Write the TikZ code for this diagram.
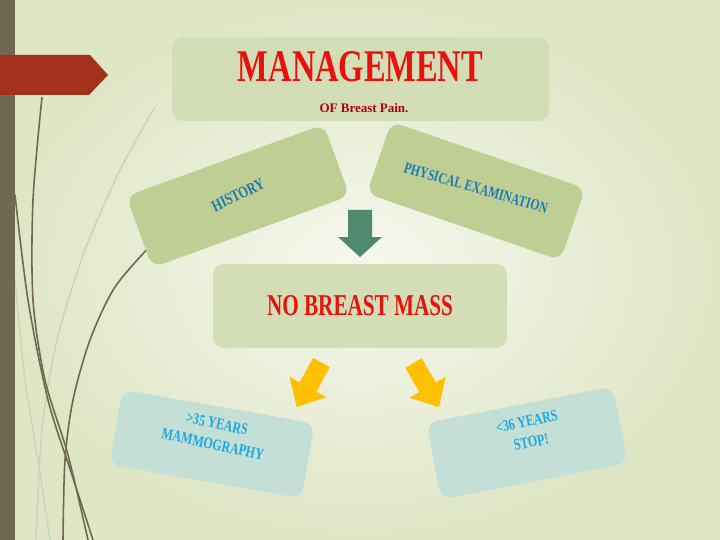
\documentclass[tikz,border=0pt]{standalone}
\usepackage{fontspec}
\setmainfont{Liberation Serif}
\newfontfamily\condfont{Liberation Serif}[FakeStretch=0.75]
\usepackage{graphicx}
\definecolor{bgin}{HTML}{F6F8EE}
\definecolor{bgout}{HTML}{DEE6C5}
\definecolor{barcol}{HTML}{6F6951}
\definecolor{bannercol}{HTML}{A3301A}
\definecolor{faintcol}{HTML}{CDD3BC}
\definecolor{lightbox}{HTML}{D4DEB6}
\definecolor{greenbox}{HTML}{BFCF94}
\definecolor{tealbox}{HTML}{C3DFD6}
\definecolor{mgred}{HTML}{E8110C}
\definecolor{darkred}{HTML}{B0000A}
\definecolor{bluetext}{HTML}{1C78B4}
\definecolor{cyantext}{HTML}{1BA8E0}
\definecolor{greenarrow}{HTML}{4F8A70}
\definecolor{amber}{HTML}{FFC000}
\begin{document}
\begin{tikzpicture}[x=1pt,y=-1pt,
  boxbase/.style={rounded corners=11pt, inner sep=0pt, draw=none},
  palebox/.style={boxbase, fill=lightbox},
  leafbox/.style={boxbase, fill=greenbox, minimum width=210pt, minimum height=76pt},
  agebox/.style={boxbase, fill=tealbox},
  bluelabel/.style={text=bluetext, inner sep=0pt},
  cyanlabel/.style={text=cyantext, inner sep=0pt, align=center, font=\condfont\bfseries\fontsize{16}{21}\selectfont},
  curve/.style={draw=barcol, line width=1.6pt},
  faintcurve/.style={draw=faintcol, line width=1.4pt},
  yellowarrow/.style={fill=amber},
  downarrow/.style={fill=greenarrow}]
\useasboundingbox (0,0) rectangle (720,540);
\shade[inner color=bgin, outer color=bgout] (0,0) rectangle (720,540);

% decorative curves
\draw[faintcurve] plot[smooth] coordinates {(155,107) (120,170) (85,250) (57,340) (42,430) (36,540)};
\draw[faintcurve] plot[smooth] coordinates {(15,280) (25,380) (38,460) (50,540)};
\draw[curve] plot[smooth] coordinates {(42,97) (33,200) (33,300) (45,380) (68,455) (88,540)};
\draw[curve] plot[smooth] coordinates {(15,195) (28,300) (48,400) (72,475) (93,540)};
\draw[curve] plot[smooth] coordinates {(153,243) (115,287) (90,340) (73,400) (65,460) (63,540)};

% left bar and banner
\fill[barcol] (0,0) rectangle (15,540);
\fill[bannercol] (0,55) -- (90,55) -- (108,75) -- (89,95) -- (0,95) -- cycle;

% title box
\node[palebox, minimum width=377pt, minimum height=84pt] (mgmt) at (360.5,79) {};
\node[anchor=base, inner sep=0pt, text=mgred] (mgmttitle) at (360.5,82)
  {\resizebox{245pt}{30pt}{\bfseries MANAGEMENT}};
\node[anchor=base, inner sep=0pt, text=darkred, font=\bfseries\fontsize{13}{15}\selectfont] (mgmtsub) at (364,113)
  {OF Breast Pain.};

% history / physical examination
\node[leafbox, rotate=20] (hist) at (238,196) {};
\node[bluelabel, rotate=26, font=\condfont\bfseries\fontsize{16.5}{18}\selectfont] (histtext) at (238,195) {HISTORY};
\node[leafbox, rotate=-19, minimum width=205pt] (phys) at (476,191) {};
\node[bluelabel, rotate=-16, font=\condfont\bfseries\fontsize{15.5}{17}\selectfont] (phystext) at (476,188) {PHYSICAL EXAMINATION};

% green arrow
\fill[downarrow] (348,210) -- (372,210) -- (372,237) -- (382,237) -- (360,257) -- (338,237) -- (348,237) -- cycle;

% no breast mass
\node[palebox, minimum width=294pt, minimum height=84pt] (nbm) at (360,306) {};
\node[anchor=base, inner sep=0pt, text=mgred] (nbmtext) at (360,315)
  {\resizebox{186pt}{20pt}{\bfseries NO BREAST MASS}};

% yellow arrows
\fill[yellowarrow, shift={(321.5,362.5)}, rotate=-119]
  (0,-9.5) -- (28,-9.5) -- (28,-21) -- (51,0) -- (28,21) -- (28,9.5) -- (0,9.5) -- cycle;
\fill[yellowarrow, shift={(413.5,363)}, rotate=-60]
  (0,-9.5) -- (28,-9.5) -- (28,-21) -- (51,0) -- (28,21) -- (28,9.5) -- (0,9.5) -- cycle;

% age boxes
\node[agebox, rotate=-10, minimum width=195pt, minimum height=76pt] (older) at (212,444) {};
\node[cyanlabel, rotate=-12] (oldertext) at (215,434) {>35 YEARS\\MAMMOGRAPHY};
\node[agebox, rotate=11, minimum width=190pt, minimum height=78pt] (younger) at (527,443) {};
\node[cyanlabel, rotate=12] (youngertext) at (529,432) {<36 YEARS\\STOP!};
\end{tikzpicture}
\end{document}
